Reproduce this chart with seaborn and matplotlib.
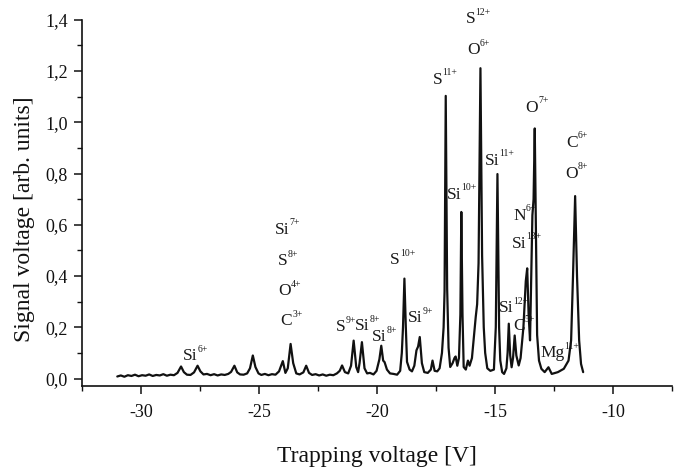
import numpy as np
import pandas as pd
import matplotlib
matplotlib.use("Agg")
import matplotlib.pyplot as plt
import seaborn as sns
from matplotlib.ticker import MultipleLocator
from matplotlib.offsetbox import TextArea, HPacker, VPacker, DrawingArea, AnnotationBbox

# ---- traced data (trapping voltage [V], signal [arb. units]) ----
voltage = [
    -31.00, -30.85, -30.70, -30.55, -30.40, -30.25, -30.10, -29.95, -29.80, -29.65,
    -29.50, -29.35, -29.20, -29.05, -28.90, -28.75, -28.60, -28.45, -28.30, -28.18,
    -28.05, -27.90, -27.75, -27.60, -27.48, -27.35, -27.20, -27.05, -26.90, -26.75,
    -26.60, -26.45, -26.30, -26.18, -26.04, -25.92, -25.80, -25.65, -25.50, -25.38,
    -25.26, -25.15, -25.02, -24.90, -24.75, -24.60, -24.45, -24.30, -24.15, -23.99,
    -23.88, -23.78, -23.66, -23.55, -23.42, -23.28, -23.12, -23.00, -22.88, -22.75,
    -22.60, -22.45, -22.30, -22.15, -22.00, -21.85, -21.70, -21.58, -21.48, -21.36,
    -21.22, -21.10, -20.99, -20.88, -20.80, -20.74, -20.64, -20.53, -20.42, -20.30,
    -20.15, -20.02, -19.90, -19.82, -19.74, -19.68, -19.58, -19.45, -19.30, -19.15,
    -19.02, -18.95, -18.90, -18.84, -18.78, -18.73, -18.62, -18.52, -18.42, -18.33,
    -18.26, -18.19, -18.10, -18.00, -17.85, -17.72, -17.65, -17.56, -17.45, -17.35,
    -17.25, -17.18, -17.14, -17.09, -17.03, -16.97, -16.90, -16.80, -16.72, -16.67,
    -16.60, -16.53, -16.47, -16.43, -16.38, -16.33, -16.24, -16.15, -16.08, -15.98,
    -15.90, -15.82, -15.76, -15.70, -15.62, -15.55, -15.48, -15.42, -15.33, -15.20,
    -15.05, -14.97, -14.90, -14.83, -14.78, -14.70, -14.62, -14.52, -14.47, -14.42,
    -14.36, -14.30, -14.24, -14.17, -14.10, -14.00, -13.92, -13.80, -13.70, -13.64,
    -13.58, -13.52, -13.47, -13.42, -13.37, -13.32, -13.26, -13.22, -13.14, -13.04,
    -12.90, -12.74, -12.60, -12.34, -12.09, -11.89, -11.78, -11.70, -11.61, -11.53,
    -11.44, -11.36, -11.27,
]
signal = [
    0.008, 0.012, 0.007, 0.013, 0.010, 0.015, 0.009, 0.013, 0.011, 0.016,
    0.010, 0.014, 0.012, 0.017, 0.011, 0.015, 0.013, 0.022, 0.047, 0.025,
    0.015, 0.014, 0.024, 0.050, 0.028, 0.016, 0.018, 0.013, 0.017, 0.012,
    0.016, 0.014, 0.018, 0.026, 0.050, 0.024, 0.016, 0.015, 0.020, 0.040,
    0.090, 0.045, 0.020, 0.014, 0.018, 0.013, 0.017, 0.015, 0.028, 0.068,
    0.022, 0.040, 0.135, 0.060, 0.020, 0.016, 0.024, 0.050, 0.022, 0.014,
    0.017, 0.012, 0.016, 0.011, 0.015, 0.013, 0.020, 0.030, 0.051, 0.025,
    0.020, 0.050, 0.148, 0.045, 0.025, 0.060, 0.142, 0.040, 0.020, 0.022,
    0.016, 0.030, 0.075, 0.128, 0.070, 0.064, 0.035, 0.020, 0.018, 0.015,
    0.030, 0.100, 0.200, 0.390, 0.200, 0.065, 0.035, 0.028, 0.050, 0.110,
    0.125, 0.162, 0.060, 0.025, 0.022, 0.035, 0.070, 0.030, 0.028, 0.040,
    0.100, 0.200, 0.340, 1.103, 0.350, 0.120, 0.045, 0.060, 0.080, 0.086,
    0.050, 0.080, 0.250, 0.650, 0.250, 0.045, 0.035, 0.070, 0.050, 0.080,
    0.160, 0.240, 0.290, 0.450, 1.211, 0.480, 0.200, 0.100, 0.040, 0.030,
    0.035, 0.200, 0.798, 0.200, 0.070, 0.025, 0.018, 0.040, 0.100, 0.214,
    0.090, 0.044, 0.080, 0.168, 0.090, 0.051, 0.080, 0.200, 0.380, 0.430,
    0.250, 0.149, 0.400, 0.637, 0.700, 0.976, 0.500, 0.170, 0.070, 0.038,
    0.025, 0.044, 0.018, 0.025, 0.038, 0.070, 0.149, 0.400, 0.712, 0.400,
    0.149, 0.057, 0.025,
]

# ---- peak labels (element, charge superscript, centre position) ----
label_base = [
    "S", "O", "S", "Si", "O",
    "C", "O", "Si", "N", "Si",
    "Si", "S", "O", "C", "S",
    "Si", "S", "Si", "Si", "Si",
    "C", "Mg", "Si",
]
label_sup = [
    "12+", "6+", "11+", "11+", "7+",
    "6+", "8+", "10+", "6+", "13+",
    "7+", "8+", "4+", "3+", "10+",
    "9+", "9+", "8+", "8+", "12+",
    "5+", "11+", "6+",
]
label_x = [
    -15.73, -15.69, -17.13, -14.80, -13.23,
    -11.54, -11.54, -16.41, -13.74, -13.66,
    -23.79, -23.79, -23.71, -23.62, -18.92,
    -18.15, -21.30, -20.40, -19.68, -14.21,
    -13.78, -12.26, -27.69,
]
label_y = [
    1.412, 1.291, 1.177, 0.860, 1.068,
    0.931, 0.810, 0.727, 0.645, 0.536,
    0.591, 0.469, 0.352, 0.235, 0.473,
    0.246, 0.211, 0.215, 0.172, 0.285,
    0.215, 0.110, 0.098,
]

x_ticks = [-30, -25, -20, -15, -10]
x_ticklabels = ["-30", "-25", "-20", "-15", "-10"]
y_ticks = [0.0, 0.2, 0.4, 0.6, 0.8, 1.0, 1.2, 1.4]
y_ticklabels = ["0,0", "0,2", "0,4", "0,6", "0,8", "1,0", "1,2", "1,4"]

df = pd.DataFrame({"voltage": voltage, "signal": signal})

sns.set_style("ticks")
plt.rcParams["font.family"] = ["Liberation Serif", "DejaVu Serif"]

DPI = 100
fig = plt.figure(figsize=(6.88, 4.71), dpi=DPI)
ax = fig.add_axes([0.119, 0.180, 0.858, 0.778])

sns.lineplot(data=df, x="voltage", y="signal", sort=False, estimator=None,
             color="#111111", linewidth=1.6, ax=ax, zorder=3)

ink = "#1a1a1a"
fam = ["Liberation Serif", "DejaVu Serif"]
for b, s, xx, yy in zip(label_base, label_sup, label_x, label_y):
    tb = TextArea(b, textprops=dict(fontsize=12.5, color=ink, family=fam))
    ts = TextArea(s, textprops=dict(fontsize=7.0, color=ink, family=fam))
    base_box = VPacker(children=[DrawingArea(1, 2.5), tb], pad=0, sep=0, align="left")
    box = HPacker(children=[base_box, ts], align="top", pad=0, sep=0)
    ab = AnnotationBbox(box, (xx, yy), xycoords="data", frameon=False,
                        box_alignment=(0.5, 0.55), pad=0, annotation_clip=False)
    ab.set_zorder(2)
    ax.add_artist(ab)

ax.set_xlim(-32.5, -7.5)
ax.set_ylim(-0.03, 1.4)
ax.set_xticks(x_ticks)
ax.set_xticklabels(x_ticklabels)
ax.set_yticks(y_ticks)
ax.set_yticklabels(y_ticklabels)
ax.xaxis.set_minor_locator(MultipleLocator(2.5))
ax.yaxis.set_minor_locator(MultipleLocator(0.1))
ax.tick_params(axis="both", which="major", direction="out", length=6, width=1.1,
               labelsize=13, colors="#111111", pad=4)
ax.tick_params(axis="x", which="major", pad=7)
ax.tick_params(axis="both", which="minor", direction="out", length=3.5, width=1.0,
               colors="#111111")
ax.set_xlabel("Trapping voltage [V]", fontsize=17, color="#111111", labelpad=18)
ax.set_ylabel("Signal voltage [arb. units]", fontsize=17, color="#111111")
ax.yaxis.set_label_coords(-0.08, 0.456)
sns.despine(ax=ax)
for sp in ["left", "bottom"]:
    ax.spines[sp].set_linewidth(1.2)
    ax.spines[sp].set_color("#111111")

fig.savefig("out.png", dpi=DPI)
